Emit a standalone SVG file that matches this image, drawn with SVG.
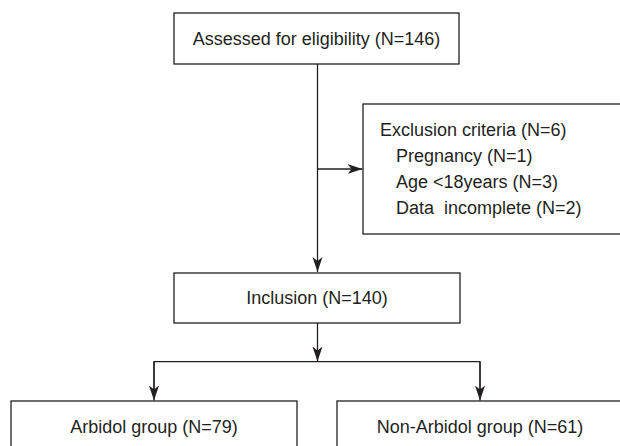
<svg xmlns="http://www.w3.org/2000/svg" width="620" height="446" viewBox="0 0 620 446">
<defs>
<style>
.box{fill:#ffffff;stroke:#231f20;stroke-width:1.3}
.ln{fill:none;stroke:#231f20;stroke-width:1.3}
text{font-family:"Liberation Sans",Arial,Helvetica,sans-serif;font-size:18px;fill:#231f20}
.c{text-anchor:middle}
</style>
<marker id="ah" markerWidth="16" markerHeight="12" refX="15" refY="6" orient="auto" markerUnits="userSpaceOnUse">
<path d="M0,1 L15,6 L0,11 L4,6 Z" fill="#231f20"/>
</marker>
</defs>
<rect width="620" height="446" fill="#ffffff"/>
<g id="connectors">
<line class="ln" x1="317.5" y1="64" x2="317.5" y2="272" marker-end="url(#ah)"/>
<line class="ln" x1="317.5" y1="169" x2="362.5" y2="169" marker-end="url(#ah)"/>
<line class="ln" x1="317.5" y1="323" x2="317.5" y2="361.5" marker-end="url(#ah)"/>
<polyline class="ln" points="154,390 154,361.7 480,361.7 480,390"/>
<line class="ln" x1="154" y1="362" x2="154" y2="400.5" marker-end="url(#ah)"/>
<line class="ln" x1="480" y1="362" x2="480" y2="400.5" marker-end="url(#ah)"/>
</g>
<g id="assessed">
<rect class="box" x="174" y="13" width="285" height="51"/>
<text class="c" x="316.5" y="45">Assessed for eligibility (N=146)</text>
</g>
<g id="exclusion">
<rect class="box" x="363" y="104" width="258" height="130"/>
<text x="380" y="136">Exclusion criteria (N=6)</text>
<text x="396" y="162">Pregnancy (N=1)</text>
<text x="396" y="188">Age &lt;18years (N=3)</text>
<text x="396" y="214" xml:space="preserve">Data  incomplete (N=2)</text>
</g>
<g id="inclusion">
<rect class="box" x="174" y="273" width="286" height="50"/>
<text class="c" x="317" y="304">Inclusion (N=140)</text>
</g>
<g id="arbidol">
<rect class="box" x="11" y="401" width="286" height="60"/>
<text class="c" x="154" y="433">Arbidol group (N=79)</text>
</g>
<g id="nonarbidol">
<rect class="box" x="337" y="401" width="286" height="60"/>
<text class="c" x="480" y="433">Non-Arbidol group (N=61)</text>
</g>
</svg>
